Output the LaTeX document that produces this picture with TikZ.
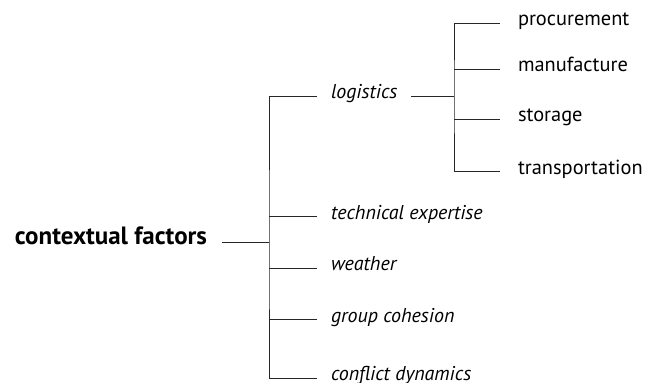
\documentclass[tikz,border=0pt]{standalone}
\usepackage{fontspec}
\setmainfont{PT Sans}
\begin{document}
\begin{tikzpicture}[x=1pt,y=-1pt,
  lbl/.style={inner sep=0pt, text height=1ex, text depth=0pt, font=\fontsize{20.4}{24}\selectfont},
  ital/.style={lbl, outer xsep=14pt, anchor=west, font=\fontsize{20}{24}\selectfont\itshape},
  sub/.style={lbl, outer xsep=18pt, anchor=west},
  rootlbl/.style={lbl, outer xsep=15pt, anchor=east, font=\fontsize{25}{29}\selectfont\bfseries},
  conn/.style={draw=black!85, line width=0.8pt}]
\useasboundingbox (0,0) rectangle (654,383);
% nodes
\node[rootlbl] (root) at (222,242) {contextual factors};
\node[ital] (lg) at (317,96) {logistics};
\node[ital] (te) at (317,216.7) {technical expertise};
\node[ital] (we) at (317,268) {weather};
\node[ital] (gc) at (317,319.5) {group cohesion};
\node[ital] (cd) at (317,378) {conflict dynamics};
\node[sub] (pr) at (500,23.3) {procurement};
\node[sub] (ma) at (500,69.3) {manufacture};
\node[sub] (st) at (500,119) {storage};
\node[sub] (tr) at (500,171.7) {transportation};
\coordinate (j1) at (269,242);
\coordinate (j2) at (454,96);
% connectors
\draw[conn] (root.east) -- (j1);
\draw[conn] (lg.west) -| (j1) |- (cd.west);
\draw[conn] (te.west) -- (te.west -| j1);
\draw[conn] (we.west) -- (we.west -| j1);
\draw[conn] (gc.west) -- (gc.west -| j1);
\draw[conn] (lg.east) -- (j2);
\draw[conn] (pr.west) -| (j2) |- (tr.west);
\draw[conn] (ma.west) -- (ma.west -| j2);
\draw[conn] (st.west) -- (st.west -| j2);
\end{tikzpicture}
\end{document}
